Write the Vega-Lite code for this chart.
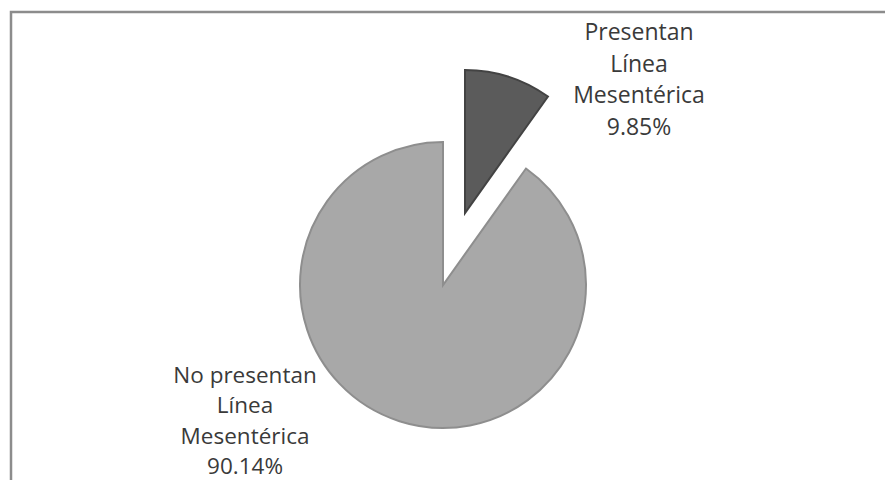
{
  "$schema": "https://vega.github.io/schema/vega-lite/v6.json",
  "width": 900,
  "height": 490,
  "autosize": {"type": "none"},
  "padding": {"left": 11, "top": 12, "right": -26, "bottom": -22},
  "background": "white",
  "view": {"stroke": "#8c8c8c", "strokeWidth": 2.5, "fill": "white"},
  "data": {"values": [
    {"categoria": "Presentan Línea Mesentérica", "valor": 9.85, "etiqueta": "Presentan\nLínea\nMesentérica\n9.85%", "orden": 1},
    {"categoria": "No presentan Línea Mesentérica", "valor": 90.14, "etiqueta": "No presentan\nLínea\nMesentérica\n90.14%", "orden": 2}
  ]},
  "transform": [
    {"stack": "valor", "groupby": [], "sort": [{"field": "orden"}], "offset": "normalize", "as": ["t0", "t1"]}
  ],
  "layer": [
    {
      "transform": [{"filter": {"field": "orden", "equal": 2}}],
      "mark": {"type": "arc", "radius": 143, "xOffset": -18, "yOffset": 28, "fill": "#a8a8a8", "stroke": "#8e8e8e", "strokeWidth": 2},
      "encoding": {
        "theta": {"field": "t0", "type": "quantitative", "scale": {"domain": [0, 1]}},
        "theta2": {"field": "t1"}
      }
    },
    {
      "transform": [{"filter": {"field": "orden", "equal": 1}}],
      "mark": {"type": "arc", "radius": 143, "xOffset": 4, "yOffset": -44, "fill": "#5b5b5b", "stroke": "#434343", "strokeWidth": 2},
      "encoding": {
        "theta": {"field": "t0", "type": "quantitative", "scale": {"domain": [0, 1]}},
        "theta2": {"field": "t1"}
      }
    },
    {
      "transform": [{"filter": {"field": "orden", "equal": 1}}],
      "mark": {"type": "text", "radius": 224, "dx": 178, "lineBreak": "\n", "lineHeight": 31.5, "font": "Open Sans", "fontSize": 23, "color": "#3a3a3a", "align": "center", "baseline": "middle"},
      "encoding": {
        "theta": {"field": "t0", "type": "quantitative", "scale": {"domain": [0, 1]}},
        "text": {"field": "etiqueta"}
      }
    },
    {
      "transform": [{"filter": {"field": "orden", "equal": 2}}],
      "mark": {"type": "text", "radius": 150, "dx": -303, "dy": 241, "lineBreak": "\n", "lineHeight": 30.5, "font": "Open Sans", "fontSize": 22.5, "color": "#3a3a3a", "align": "center", "baseline": "middle"},
      "encoding": {
        "theta": {"field": "t0", "type": "quantitative", "scale": {"domain": [0, 1]}},
        "text": {"field": "etiqueta"}
      }
    }
  ]
}
